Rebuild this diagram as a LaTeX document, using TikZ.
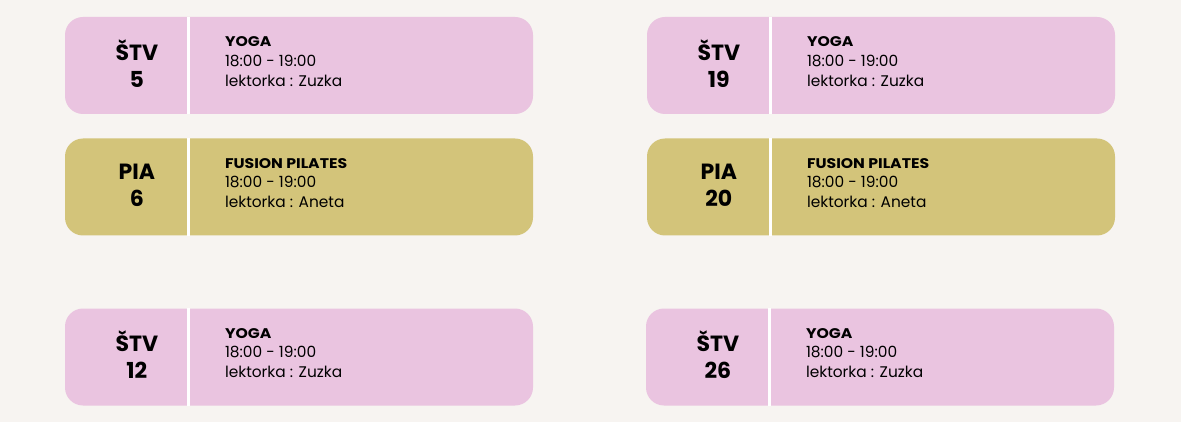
\documentclass[tikz,border=0pt]{standalone}
\usepackage{fontspec}
\setmainfont{Poppins}
\newfontfamily\headfam{Poppins}[FakeStretch=1.12]
\usetikzlibrary{calc,positioning}
\definecolor{bgc}{HTML}{F7F4F1}
\definecolor{pinkc}{HTML}{EAC4E0}
\definecolor{olivec}{HTML}{D3C47A}
\newcommand{\classname}[1]{{\headfam\fontsize{14}{20}\selectfont\bfseries #1}}
\begin{document}
\begin{tikzpicture}[x=1pt,y=-1pt,
	card/.style={rounded corners=18pt,minimum width=468pt,minimum height=97pt,inner sep=0pt},
	divider/.style={draw=white,line width=3pt},
	day/.style={font=\fontsize{22}{27}\selectfont\bfseries,align=center,inner sep=0pt},
	info/.style={font=\fontsize{15.4}{19.8}\selectfont,align=left,anchor=west,inner sep=0pt}]
	\fill[bgc] (0,0) rectangle (1181,422);
	\useasboundingbox (0,0) rectangle (1181,422);

	\begin{scope}[every node/.style={card}]
		\node[fill=pinkc] (c1) at (299,65.5) {};
		\node[fill=olivec] (c2) at (299,187) {};
		\node[fill=pinkc] (c3) at (299,357) {};
		\node[fill=pinkc] (c4) at (881,65.5) {};
		\node[fill=olivec] (c5) at (881,187) {};
		\node[fill=pinkc] (c6) at (880,357) {};
	\end{scope}

	% white line between day and class
	\draw[divider] ($(c1.north west)+(123.5,0)$) -- ($(c1.south west)+(123.5,0)$);
	\draw[divider] ($(c2.north west)+(123.5,0)$) -- ($(c2.south west)+(123.5,0)$);
	\draw[divider] ($(c3.north west)+(123.5,0)$) -- ($(c3.south west)+(123.5,0)$);
	\draw[divider] ($(c4.north west)+(123.5,0)$) -- ($(c4.south west)+(123.5,0)$);
	\draw[divider] ($(c5.north west)+(123.5,0)$) -- ($(c5.south west)+(123.5,0)$);
	\draw[divider] ($(c6.north west)+(123.5,0)$) -- ($(c6.south west)+(123.5,0)$);

	\node[day] (d1) at ($(c1.west)+(72,-2)$) {ŠTV\\5};
	\node[day] (d2) at ($(c2.west)+(72,-2)$) {PIA\\6};
	\node[day] (d3) at ($(c3.west)+(72,-2)$) {ŠTV\\12};
	\node[day] (d4) at ($(c4.west)+(72,-2)$) {ŠTV\\19};
	\node[day] (d5) at ($(c5.west)+(72,-2)$) {PIA\\20};
	\node[day] (d6) at ($(c6.west)+(72,-2)$) {ŠTV\\26};

	\node[info] (i1) at ($(c1.west)+(160,-4)$) {\classname{YOGA}\\18:00 - 19:00\\lektorka : Zuzka};
	\node[info] (i2) at ($(c2.west)+(160,-4)$) {\classname{FUSION PILATES}\\18:00 - 19:00\\lektorka : Aneta};
	\node[info] (i3) at ($(c3.west)+(160,-4)$) {\classname{YOGA}\\18:00 - 19:00\\lektorka : Zuzka};
	\node[info] (i4) at ($(c4.west)+(160,-4)$) {\classname{YOGA}\\18:00 - 19:00\\lektorka : Zuzka};
	\node[info] (i5) at ($(c5.west)+(160,-4)$) {\classname{FUSION PILATES}\\18:00 - 19:00\\lektorka : Aneta};
	\node[info] (i6) at ($(c6.west)+(160,-4)$) {\classname{YOGA}\\18:00 - 19:00\\lektorka : Zuzka};
\end{tikzpicture}
\end{document}
